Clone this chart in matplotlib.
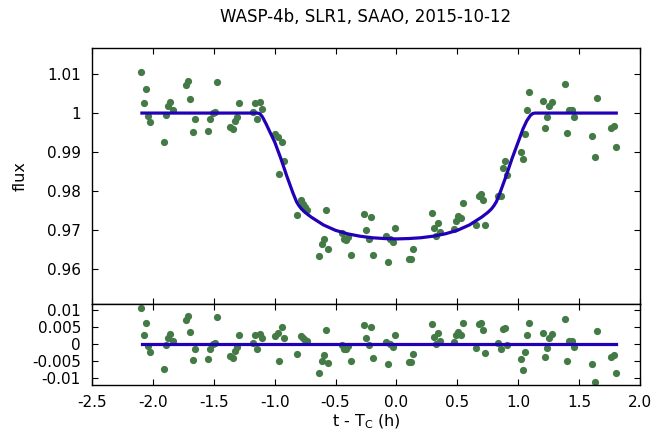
import matplotlib
matplotlib.use("Agg")
import matplotlib.pyplot as plt
import numpy as np

# observed points: time from mid-transit (h) and relative flux
t_obs = [-2.094, -2.077, -2.058, -2.039, -2.022,
         -1.910, -1.890, -1.877, -1.857, -1.838,
         -1.729, -1.709, -1.693, -1.674, -1.657,
         -1.544, -1.528, -1.506, -1.490, -1.473,
         -1.363, -1.344, -1.327, -1.310, -1.292,
         -1.181, -1.162, -1.143, -1.124, -1.107,
         -0.995, -0.975, -0.962, -0.942, -0.923,
         -0.814, -0.783, -0.764, -0.750, -0.736,
         -0.632, -0.613, -0.594, -0.577, -0.563,
         -0.447, -0.429, -0.412, -0.396, -0.377,
         -0.267, -0.247, -0.228, -0.212, -0.192,
         -0.085, -0.066, -0.049, -0.030, -0.011,
         0.100, 0.118, 0.134,
         0.289, 0.305, 0.324, 0.344, 0.360,
         0.472, 0.492, 0.509, 0.528, 0.544,
         0.657, 0.674, 0.692, 0.711, 0.728,
         0.838, 0.857, 0.871, 0.890, 0.909,
         1.020, 1.039, 1.055, 1.075, 1.091,
         1.201, 1.220, 1.237, 1.256, 1.275,
         1.385, 1.401, 1.420, 1.440, 1.457,
         1.608, 1.627, 1.647,
         1.764, 1.787, 1.805]
flux_obs = [1.0106, 1.0026, 1.0063, 0.9993, 0.9977,
            0.9927, 0.9996, 1.0019, 1.0029, 1.0008,
            1.0072, 1.0082, 1.0037, 0.9951, 0.9985,
            0.9954, 0.9985, 1.0000, 1.0003, 1.0079,
            0.9964, 0.9959, 0.9979, 0.9991, 1.0026,
            1.0003, 1.0026, 0.9985, 1.0028, 1.0011,
            0.9947, 0.9938, 0.9844, 0.9927, 0.9878,
            0.9738, 0.9778, 0.9767, 0.9758, 0.9752,
            0.9632, 0.9665, 0.9678, 0.9752, 0.9652,
            0.9692, 0.9677, 0.9675, 0.9683, 0.9637,
            0.9740, 0.9701, 0.9678, 0.9732, 0.9637,
            0.9684, 0.9617, 0.9678, 0.9669, 0.9705,
            0.9625, 0.9625, 0.9650,
            0.9744, 0.9705, 0.9684, 0.9718, 0.9696,
            0.9702, 0.9724, 0.9736, 0.9731, 0.9769,
            0.9712, 0.9788, 0.9793, 0.9776, 0.9714,
            0.9788, 0.9786, 0.9859, 0.9876, 0.9842,
            0.9899, 0.9883, 0.9947, 1.0008, 1.0053,
            1.0032, 0.9962, 0.9989, 1.0017, 1.0029,
            1.0074, 0.9950, 1.0009, 1.0009, 0.9991,
            0.9940, 0.9887, 1.0039,
            0.9962, 0.9966, 0.9913]

# fitted transit model curve
model_t = [-2.09, -1.14, -1.12, -1.10, -1.07, -1.04, -1.00, -0.95, -0.90,
           -0.85, -0.82, -0.80, -0.78, -0.75, -0.70, -0.60, -0.50, -0.40,
           -0.30, -0.20, -0.10, 0.00, 0.10, 0.20, 0.30, 0.40, 0.50, 0.60,
           0.70, 0.75, 0.78, 0.80, 0.82, 0.85, 0.90, 0.95, 1.00, 1.04,
           1.07, 1.10, 1.12, 1.14, 1.805]
model_f = [1.0000, 1.0000, 0.9998, 0.9990, 0.9972, 0.9952, 0.9926, 0.9884,
           0.9838, 0.9795, 0.9772, 0.9762, 0.9754, 0.9745, 0.9733, 0.9713,
           0.9699, 0.9690, 0.9684, 0.9680, 0.9678, 0.9677, 0.9678, 0.9680,
           0.9684, 0.9690, 0.9699, 0.9713, 0.9733, 0.9745, 0.9754, 0.9762,
           0.9772, 0.9795, 0.9838, 0.9884, 0.9926, 0.9960, 0.9980, 0.9994,
           0.9999, 1.0000, 1.0000]

title = "WASP-4b, SLR1, SAAO, 2015-10-12"
x_ticks = [-2.5, -2.0, -1.5, -1.0, -0.5, 0.0, 0.5, 1.0, 1.5, 2.0]
y_ticks = [0.96, 0.97, 0.98, 0.99, 1.0, 1.01]
y_ticklabels = ["0.96", "0.97", "0.98", "0.99", "1", "1.01"]
r_ticks = [-0.01, -0.005, 0.0, 0.005, 0.01]
r_ticklabels = ["-0.01", "-0.005", "0", "0.005", "0.01"]

t_obs = np.array(t_obs)
flux_obs = np.array(flux_obs)
resid = flux_obs - np.interp(t_obs, model_t, model_f)

plt.rcParams["font.family"] = ["DejaVu Sans"]
plt.rcParams["font.size"] = 11

W, H = 652, 433
fig = plt.figure(figsize=(W / 100, H / 100), dpi=100)
L, R = 92, 640
ax1 = fig.add_axes([L / W, 1 - 304 / H, (R - L) / W, (304 - 48) / H])
ax2 = fig.add_axes([L / W, 1 - 385 / H, (R - L) / W, (385 - 304) / H])

dot_color = "#447a46"
line_color = "#2200b8"

ax1.plot(t_obs, flux_obs, "o", color=dot_color, ms=5.2, mec="none", zorder=2)
ax1.plot(model_t, model_f, "-", color=line_color, lw=2.3, zorder=3)
ax2.plot(t_obs, resid, "o", color=dot_color, ms=5.2, mec="none", zorder=2)
ax2.plot([model_t[0], model_t[-1]], [0, 0], "-", color=line_color, lw=2.3, zorder=3)

for ax in (ax1, ax2):
    ax.set_xlim(-2.5, 2.0)
    ax.set_xticks(x_ticks)
    ax.tick_params(direction="in", top=True, right=True, length=4.5, width=0.8,
                   labelsize=11)
    ax.tick_params(axis="y", pad=8)
    ax.tick_params(axis="x", pad=7)
    for s in ax.spines.values():
        s.set_linewidth(1.0)

ax1.set_ylim(0.951, 1.0167)
ax1.set_yticks(y_ticks)
ax1.set_yticklabels(y_ticklabels)
ax1.tick_params(labelbottom=False)

ax2.set_ylim(-0.0122, 0.0119)
ax2.set_yticks(r_ticks)
ax2.set_yticklabels(r_ticklabels)
ax2.set_xticklabels(["%.1f" % v for v in x_ticks])

fig.text(366 / W, 1 - 17 / H, title, ha="center", va="center", fontsize=12)
fig.text(20 / W, 1 - 176 / H, "flux", rotation=90, ha="center", va="center", fontsize=11.5)
fig.text(366 / W, 1 - 422 / H, "t - T$_\\mathrm{C}$ (h)", ha="center", va="center", fontsize=11.5)

fig.savefig("out.png", dpi=100)
